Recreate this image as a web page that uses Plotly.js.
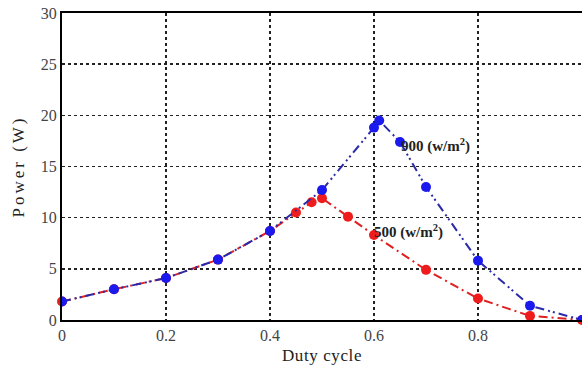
<!DOCTYPE html>
<html>
<head>
<meta charset="utf-8">
<script src="https://cdn.plot.ly/plotly-3.0.1.min.js"></script>
<style>
html,body{margin:0;padding:0;background:#fff;}
#chart{width:582px;height:376px;}
#chart .ytitle{letter-spacing:3px;}
#chart .xtitle{letter-spacing:0.6px;}
</style>
</head>
<body>
<div id="chart"></div>
<script>
const duty900 = [0, 0.1, 0.2, 0.3, 0.4, 0.5, 0.6, 0.61, 0.65, 0.7, 0.8, 0.9, 1.0];
const power900 = [1.8, 3.0, 4.1, 5.9, 8.7, 12.7, 18.8, 19.5, 17.4, 13.0, 5.8, 1.4, 0];
const duty500 = [0, 0.1, 0.2, 0.3, 0.4, 0.45, 0.48, 0.5, 0.55, 0.6, 0.7, 0.8, 0.9, 1.0];
const power500 = [1.8, 3.0, 4.1, 5.9, 8.7, 10.5, 11.5, 11.9, 10.1, 8.3, 4.9, 2.1, 0.4, 0];
const xTicks = [0, 0.2, 0.4, 0.6, 0.8, 1];
const xTickText = ['0', '0.2', '0.4', '0.6', '0.8', '1'];
const yTicks = [0, 5, 10, 15, 20, 25, 30];
const labels = ['900 (w/m<sup>2</sup>)', '500 (w/m<sup>2</sup>)'];

const serif = "'Liberation Serif', 'Times New Roman', serif";

const traces = [
  {x: duty500, y: power500, mode: 'lines+markers', name: '500',
   line: {color: '#e02020', width: 2, dash: '9px,4px,2px,4px'},
   marker: {color: '#ee1c1c', size: 10}, cliponaxis: false},
  {x: duty900, y: power900, mode: 'lines+markers', name: '900',
   line: {color: '#2a2aa8', width: 2, dash: '9px,4px,2px,3px,2px,4px'},
   marker: {color: '#1a1aee', size: 10}, cliponaxis: true}
];

const layout = {
  width: 582, height: 376,
  margin: {l: 62, r: 0, t: 13, b: 56},
  paper_bgcolor: '#fff', plot_bgcolor: '#fff',
  showlegend: false,
  font: {family: serif, size: 16, color: '#444'},
  xaxis: {
    range: [0, 1], tickvals: xTicks, ticktext: xTickText,
    showgrid: true, gridcolor: '#222', griddash: 'dot', gridwidth: 1.5,
    showline: true, linecolor: '#000', linewidth: 2, mirror: true,
    zeroline: false, ticks: '', ticklen: 0,
    title: {text: 'Duty cycle', font: {size: 17, color: '#222'}, standoff: 6}
  },
  yaxis: {
    range: [0, 30], tickvals: yTicks,
    showgrid: true, gridcolor: '#222', griddash: 'dot', gridwidth: 1.5,
    showline: true, linecolor: '#000', linewidth: 2, mirror: true,
    zeroline: false, ticks: '', ticklen: 0,
    title: {text: 'Power (W)', font: {size: 17, color: '#222'}, standoff: 12}
  },
  annotations: [
    {x: 0.648, y: 17.1, xref: 'x', yref: 'y', text: labels[0], showarrow: false,
     xanchor: 'left', yanchor: 'middle', font: {size: 15, color: '#222', family: serif, weight: 'bold'}},
    {x: 0.597, y: 8.6, xref: 'x', yref: 'y', text: labels[1], showarrow: false,
     xanchor: 'left', yanchor: 'middle', font: {size: 15, color: '#222', family: serif, weight: 'bold'}}
  ]
};

Plotly.newPlot('chart', traces, layout, {displayModeBar: false, staticPlot: true});
</script>
</body>
</html>
